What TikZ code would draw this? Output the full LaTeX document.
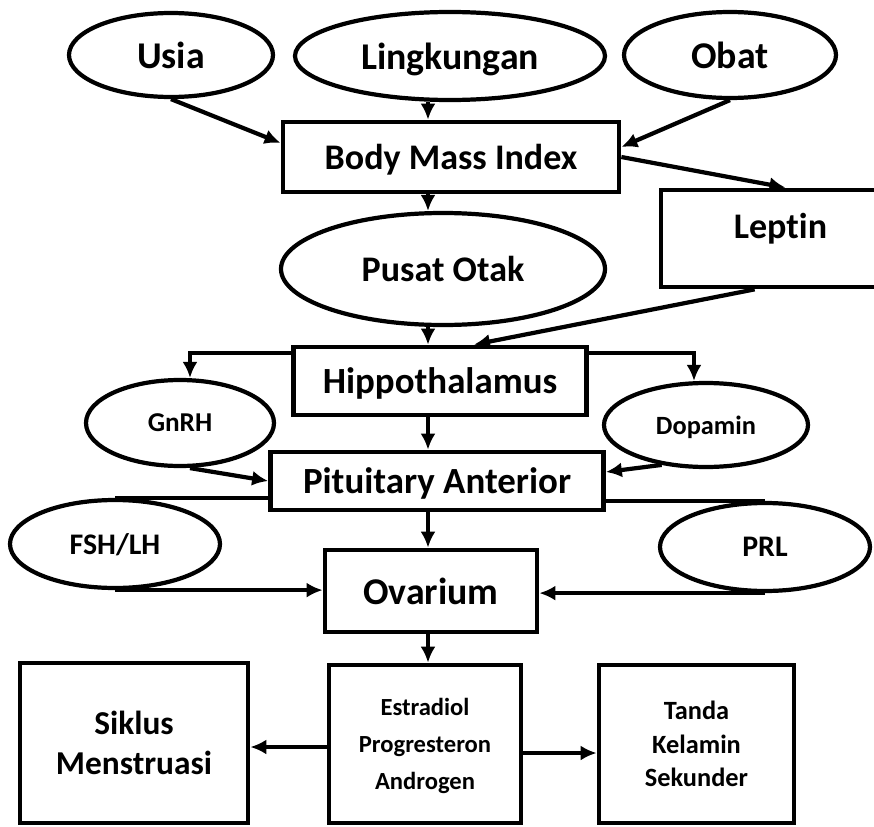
\documentclass[tikz,border=0pt]{standalone}
\usepackage{fontspec}
\setmainfont{Carlito}[Ligatures=NoCommon]
\usetikzlibrary{arrows.meta,shapes.geometric}
\begin{document}
\begin{tikzpicture}[
  box/.style={draw, rectangle, line width=2.7pt, align=center, text depth=0pt},
  oval/.style={draw, ellipse, line width=2.4pt, text depth=0pt},
  arr/.style={-{Latex[length=3.2mm,width=3mm]}, line width=2.4pt},
  link/.style={line width=2.4pt}]
\clip (0,0) rectangle (17.48,-16.54);
\coordinate (axis) at (8.56,0);
% inputs
\node[oval, minimum width=4.08cm, minimum height=1.68cm, font=\bfseries\fontsize{21.5}{24}\selectfont] (usia) at (3.42,-1.10) {Usia};
\node[oval, minimum width=6.2cm, minimum height=1.76cm, font=\bfseries\fontsize{21.5}{24}\selectfont] (ling) at (9.00,-1.12) {Lingkungan};
\node[oval, minimum width=4.24cm, minimum height=1.72cm, font=\bfseries\fontsize{21.5}{24}\selectfont] (obat) at (14.60,-1.10) {Obat};
\node[box, minimum width=6.72cm, minimum height=1.40cm, font=\bfseries\fontsize{20.5}{23}\selectfont] (bmi) at (9.02,-3.14) {Body Mass Index};
\node[box, minimum width=4.78cm, minimum height=1.94cm, text depth=0.5cm, font=\bfseries\fontsize{20.5}{23}\selectfont] (leptin) at (15.61,-4.77) {Leptin};
\node[oval, minimum width=6.48cm, minimum height=2.24cm, font=\bfseries\fontsize{20.5}{23}\selectfont] (pusat) at (8.86,-5.38) {Pusat Otak};
% axis
\node[box, minimum width=5.86cm, minimum height=1.36cm, font=\bfseries\fontsize{21}{24}\selectfont] (hipo) at (8.80,-7.62) {Hippothalamus};
\node[oval, minimum width=3.76cm, minimum height=1.72cm, font=\bfseries\fontsize{15.5}{18}\selectfont] (gnrh) at (3.60,-8.46) {GnRH};
\node[oval, minimum width=4.08cm, minimum height=1.68cm, font=\bfseries\fontsize{15}{18}\selectfont] (dopa) at (14.12,-8.50) {Dopamin};
\node[box, minimum width=6.66cm, minimum height=1.16cm, font=\bfseries\fontsize{21}{24}\selectfont] (pit) at (8.74,-9.62) {Pituitary Anterior};
\node[oval, minimum width=4.20cm, minimum height=1.76cm, font=\bfseries\fontsize{17}{20}\selectfont] (fsh) at (2.30,-10.88) {FSH/LH};
\node[oval, minimum width=4.20cm, minimum height=1.76cm, font=\bfseries\fontsize{17}{20}\selectfont] (prl) at (15.30,-10.94) {PRL};
\node[box, minimum width=4.24cm, minimum height=1.64cm, font=\bfseries\fontsize{21.5}{24}\selectfont] (ova) at (8.62,-11.82) {Ovarium};
% outputs
\node[box, minimum width=4.56cm, minimum height=3.20cm, font=\bfseries\fontsize{19}{23}\selectfont] (siklus) at (2.68,-14.86) {Siklus\\Menstruasi};
\node[box, minimum width=3.84cm, minimum height=3.16cm, font=\bfseries\fontsize{14}{21}\selectfont] (estra) at (8.50,-14.88) {Estradiol\\Progresteron\\Androgen};
\node[box, minimum width=3.90cm, minimum height=3.16cm, font=\bfseries\fontsize{15}{19}\selectfont] (tanda) at (13.93,-14.88) {Tanda\\Kelamin\\Sekunder};
% connectors
\draw[arr] (usia.south) -- ([yshift=0.28cm]bmi.west);
\draw[arr] (ling.south -| axis) -- (bmi.north -| axis);
\draw[arr] (obat.south) -- ([yshift=0.2cm]bmi.east);
\draw[arr] (bmi.east) -- ([xshift=0.1cm]leptin.north);
\draw[arr] (bmi.south -| axis) -- (pusat.north -| axis);
\draw[arr] (pusat.south -| axis) -- (hipo.north -| axis);
\draw[arr] ([xshift=1.92cm]leptin.south west) -- ([xshift=0.68cm]hipo.north);
\draw[arr] ([yshift=-0.16cm]hipo.north west) -| ([xshift=0.2cm]gnrh.north);
\draw[arr] ([yshift=-0.16cm]hipo.north east) -| ([xshift=-0.24cm]dopa.north);
\draw[arr] (hipo.south -| axis) -- (pit.north -| axis);
\draw[arr] ([xshift=0.2cm]gnrh.south) -- (pit.west);
\draw[arr] (dopa.222) -- ([yshift=0.18cm]pit.east);
\draw[link] (fsh.north) -- (fsh.north -| pit.west);
\draw[link] (prl.north) -- (prl.north -| pit.east);
\draw[arr] (pit.south -| axis) -- (ova.north -| axis);
\draw[arr] (fsh.south) -- (fsh.south -| ova.west);
\draw[arr] (prl.south) -- (prl.south -| ova.east);
\draw[arr] (ova.south -| axis) -- (estra.north -| axis);
\draw[arr] ([yshift=-0.06cm]estra.west) -- ([yshift=-0.08cm]siklus.east);
\draw[arr] ([yshift=-0.18cm]estra.east) -- ([yshift=-0.18cm]tanda.west);
\end{tikzpicture}
\end{document}
